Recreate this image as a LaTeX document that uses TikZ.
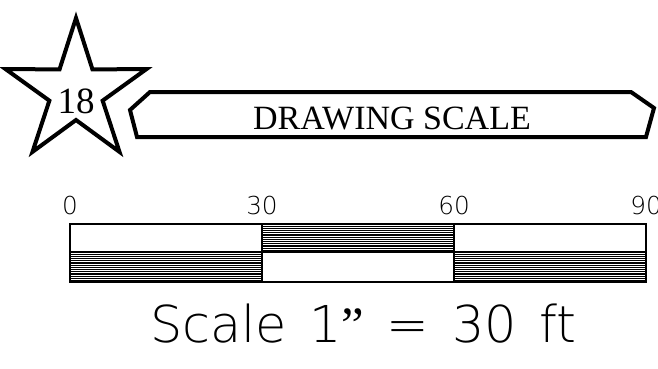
\documentclass[tikz,border=0pt]{standalone}
\usepackage{fontspec}
\setmainfont{Liberation Serif}
\newfontfamily\cadfont{DejaVu Sans ExtraLight}[WordSpace=1.4]
\usepackage{tikz}

\tikzset{
  badge/.style={line width=4pt,miter limit=10,line join=miter},
  barline/.style={line width=1.5pt},
  hatch/.style={line width=1.2pt},
  tick/.style={anchor=base,inner sep=0pt,font=\cadfont\fontsize{24.7}{24.7}\selectfont}
}

\begin{document}
\begin{tikzpicture}[x=1pt,y=-1pt]
\useasboundingbox (0,0) rectangle (658,369);
% star with number
\draw[badge] ({76+74*cos(-90)},{92+74*sin(-90)})
  \foreach \k in {0,...,4} {
    -- ({76+28*cos(-54+72*\k)},{92+28*sin(-54+72*\k)})
    -- ({76+74*cos(-18+72*\k)},{92+74*sin(-18+72*\k)})
  } -- cycle;
\node[inner sep=0pt,anchor=base,font=\fontsize{37}{37}\selectfont] (num) at (76,113) {18};
% title banner
\draw[badge] (150,92) -- (631,92) -- (654,108) -- (646,137)
  -- (137,137) -- (130,110) -- cycle;
\node[inner sep=0pt,anchor=base,font=\fontsize{34}{34}\selectfont] (title) at (392,129) {DRAWING SCALE};
% scale bar
\foreach \x/\top in {70/0,262/1,454/0} {
  \ifnum\top=1
    \begin{scope}
      \clip (\x,224) rectangle (\x+192,252);
      \foreach \y in {224,226.2,...,253} \draw[hatch] (\x,\y) -- (\x+192,\y);
    \end{scope}
  \else
    \begin{scope}
      \clip (\x,252) rectangle (\x+192,282);
      \foreach \y in {252,254.2,...,283} \draw[hatch] (\x,\y) -- (\x+192,\y);
    \end{scope}
  \fi
}
\draw[barline] (70,224) rectangle (646,282);
\draw[barline] (70,252) -- (646,252);
\draw[barline] (262,224) -- (262,282);
\draw[barline] (454,224) -- (454,282);
\node[tick] (t0) at (70,214) {0};
\node[tick] (t30) at (262,214) {30};
\node[tick] (t60) at (454,214) {60};
\node[tick] (t90) at (646,214) {90};
\node[inner sep=0pt,anchor=base west,font=\cadfont\fontsize{50.8}{50.8}\selectfont] (ratio) at (150,342) {Scale 1{\rmfamily ”} = 30 ft};
\end{tikzpicture}
\end{document}
